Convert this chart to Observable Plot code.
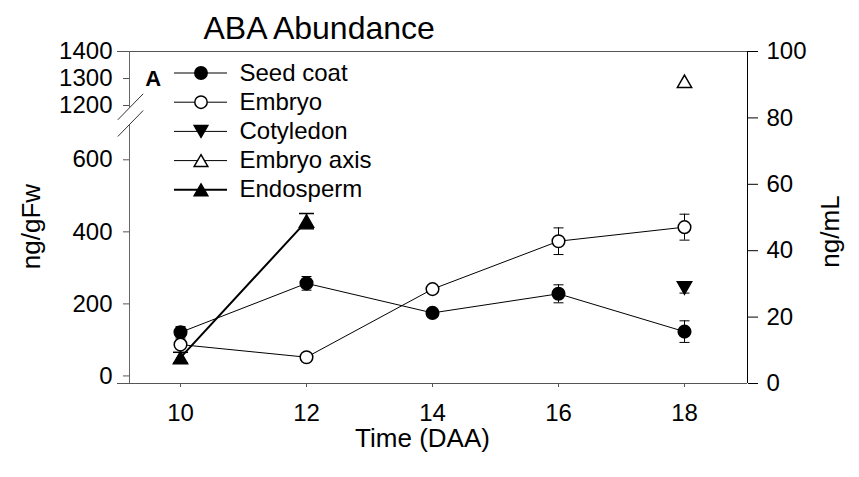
<!DOCTYPE html>
<html>
<head>
<meta charset="utf-8">
<script src="https://cdn.jsdelivr.net/npm/d3@7"></script>
<script src="https://cdn.jsdelivr.net/npm/@observablehq/plot@0.6"></script>
<style>
  html, body { margin: 0; padding: 0; background: #fff; }
  #chart svg { display: block; }
</style>
</head>
<body>
<div id="chart"></div>
<script>
// Sampling days (days after anthesis)
const days = [10, 12, 14, 16, 18];

// ABA, ng/gFw (left axis): means and standard errors
const seedCoat = [121, 257, 175, 228, 123];
const seedCoatErr = [16, 19, 8, 25, 30];
const embryo = [87, 52, 241, 374, 413];
const embryoErr = [10, 8, 8, 37, 36];
const cotyledonDays = [18];
const cotyledon = [244];
const cotyledonErr = [14];
const embryoAxisDays = [18];
const embryoAxis = [1290];

// ABA, ng/mL (right axis): liquid endosperm
const endospermDays = [10, 12];
const endosperm = [7.8, 48.9];
const endospermErr = [1.6, 2.3];

// Axis ticks
const xTicks = [10, 12, 14, 16, 18];
const leftTicks = [0, 200, 400, 600, 1200, 1300, 1400];
const rightTicks = [0, 20, 40, 60, 80, 100];

// Legend entries
const seriesNames = ["Seed coat", "Embryo", "Cotyledon", "Embryo axis", "Endosperm"];

// ---- layout ----
const W = 859, H = 477;
const M = {left: 117, right: 112, top: 51, bottom: 94};
const plotBottom = H - M.bottom, plotTop = M.top;
const xDomain = [9, 19];
// broken left axis: 0–600 below the break, 1200–1400 above it
const yStops = [-21, 600, 1200, 1400];
const yStopPx = [plotBottom, 159.3, 105, plotTop];
const yDomain = [yStops[0], yStops[yStops.length - 1]];
const rightDomain = [0, 100];

// piecewise mapping used as the y scale transform (keeps the end values fixed)
const yPx = d3.scaleLinear(yStops, yStopPx);
const yLin = d3.scaleLinear([plotBottom, plotTop], yDomain);
const broken = (v) => yLin(yPx(v));

// pixel helpers for the second axis, legend and break marks
const xPx = d3.scaleLinear(xDomain, [M.left, W - M.right]);
const rPx = d3.scaleLinear(rightDomain, [plotBottom, plotTop]);
const toLeft = (r) => yPx.invert(rPx(r));
const fromLeft = (v) => rPx.invert(yPx(v));

// marker symbols (triangles centred on their bounding box, error-bar caps)
const triUp = {draw(ctx, size) {
  const r = Math.sqrt(size / Math.PI), w = r * 1.1, h = r * 0.95;
  ctx.moveTo(0, -h); ctx.lineTo(w, h); ctx.lineTo(-w, h); ctx.closePath();
}};
const triDown = {draw(ctx, size) {
  const r = Math.sqrt(size / Math.PI), w = r * 1.1, h = r * 0.95;
  ctx.moveTo(0, h); ctx.lineTo(w, -h); ctx.lineTo(-w, -h); ctx.closePath();
}};
const cap = {draw(ctx, size) {
  const r = Math.sqrt(size / Math.PI);
  ctx.moveTo(-r, 0); ctx.lineTo(r, 0);
}};

function rows(xs, vs, es, map = (v) => v) {
  return xs.map((x, i) => ({
    x, v: map(vs[i]),
    lo: es ? map(vs[i] - es[i]) : null,
    hi: es ? map(vs[i] + es[i]) : null
  }));
}
const seedRows = rows(days, seedCoat, seedCoatErr);
const embryoRows = rows(days, embryo, embryoErr);
const cotRows = rows(cotyledonDays, cotyledon, cotyledonErr);
const axisRows = rows(embryoAxisDays, embryoAxis, null);
const endoRows = rows(endospermDays, endosperm, endospermErr, toLeft);

function errorBars(data, capR = 5, sw = 1) {
  return [
    Plot.ruleX(data, {x: "x", y1: "lo", y2: "hi", stroke: "black", strokeWidth: sw}),
    Plot.dot(data, {x: "x", y: "lo", symbol: cap, r: capR, stroke: "black", strokeWidth: sw, fill: "none"}),
    Plot.dot(data, {x: "x", y: "hi", symbol: cap, r: capR, stroke: "black", strokeWidth: sw, fill: "none"})
  ];
}

// legend styling per series
const legendStyle = [
  {symbol: "circle", r: 6.2, fill: "black", lw: 1},
  {symbol: "circle", r: 6.2, fill: "white", lw: 1},
  {symbol: triDown, r: 6.2, fill: "black", lw: 1},
  {symbol: triUp, r: 6.2, fill: "white", lw: 1},
  {symbol: triUp, r: 6.2, fill: "black", lw: 2}
];
const legendRows = seriesNames.map((name, i) => ({
  name,
  ...legendStyle[i],
  y: yPx.invert(72.5 + i * 29.2),
  x1: xPx.invert(174), x2: xPx.invert(227), xm: xPx.invert(200.5), xt: xPx.invert(239)
}));

// axis break: gap in the left axis and two slashes
const gapTop = yPx.invert(107.3), gapBottom = yPx.invert(124);
const slashes = [
  {x1: xPx.invert(117.3), y1: yPx.invert(119.3), x2: xPx.invert(142.7), y2: yPx.invert(93.3)},
  {x1: xPx.invert(117.3), y1: yPx.invert(136), x2: xPx.invert(142.7), y2: yPx.invert(110)}
];
const axisOffset = 12; // left axis sits 12px inside the frame

const font = "'Liberation Sans', Arial, Helvetica, sans-serif";
const label = (text, options) =>
  Plot.text([text], {text: (d) => d, textAnchor: "middle", lineAnchor: "middle", fill: "black", ...options});

const chart = Plot.plot({
  width: W,
  height: H,
  marginLeft: M.left,
  marginRight: M.right,
  marginTop: M.top,
  marginBottom: M.bottom,
  style: {fontFamily: font, background: "white", color: "black", overflow: "visible"},
  x: {type: "linear", domain: xDomain},
  y: {type: "linear", domain: yDomain, transform: broken},
  marks: [
    // frame lines
    Plot.ruleY([yDomain[0]], {stroke: "#555"}),
    Plot.ruleY([yDomain[1]], {stroke: "#555"}),
    Plot.ruleX([{a: yDomain[0], b: gapBottom}, {a: gapTop, b: yDomain[1]}],
      {x: xDomain[0], y1: "a", y2: "b", dx: axisOffset, stroke: "#666"}),
    Plot.ruleX([xDomain[1]], {stroke: "black"}),
    Plot.link(slashes, {x1: "x1", y1: "y1", x2: "x2", y2: "y2", stroke: "#333", strokeWidth: 1}),

    // axes
    Plot.axisX(xTicks, {tickSize: 4, tickPadding: 16, fontSize: 24, stroke: "#555", label: null,
      tickFormat: (d) => String(d)}),
    Plot.axisY(leftTicks, {anchor: "left", dx: axisOffset, tickSize: 6, tickPadding: 11, fontSize: 24,
      stroke: "#555", label: null, tickFormat: (d) => String(d)}),
    Plot.axisY(rightTicks.map(toLeft), {anchor: "right", tickSize: 10, tickPadding: 9, fontSize: 24,
      stroke: "black", label: null, tickFormat: (d) => String(Math.round(fromLeft(d)))}),

    // connecting lines
    Plot.line(seedRows, {x: "x", y: "v", stroke: "black", strokeWidth: 1}),
    Plot.line(embryoRows, {x: "x", y: "v", stroke: "black", strokeWidth: 1}),
    Plot.line(endoRows, {x: "x", y: "v", stroke: "black", strokeWidth: 2}),

    // error bars
    ...errorBars(seedRows),
    ...errorBars(embryoRows),
    ...errorBars(cotRows),
    ...errorBars(endoRows, 7.5, 1.5),

    // markers
    Plot.dot(seedRows, {x: "x", y: "v", r: 6.3, symbol: "circle", fill: "black", stroke: "black"}),
    Plot.dot(embryoRows, {x: "x", y: "v", r: 6.3, symbol: "circle", fill: "white", stroke: "black"}),
    Plot.dot(cotRows, {x: "x", y: "v", r: 6.5, symbol: triDown, fill: "black", stroke: "black"}),
    Plot.dot(axisRows, {x: "x", y: "v", r: 6.5, symbol: triUp, fill: "white", stroke: "black"}),
    Plot.dot(endoRows, {x: "x", y: "v", r: 6.5, symbol: triUp, fill: "black", stroke: "black"}),

    // legend
    ...legendRows.map((d) => Plot.ruleY([d], {y: "y", x1: "x1", x2: "x2", stroke: "black", strokeWidth: d.lw})),
    ...legendRows.map((d) => Plot.dot([d], {x: "xm", y: "y", r: d.r, symbol: d.symbol, fill: d.fill, stroke: "black"})),
    Plot.text(legendRows, {x: "xt", y: "y", text: "name", textAnchor: "start", fontSize: 24, fill: "black"}),

    // titles and labels
    label("ABA Abundance", {frameAnchor: "top-left", textAnchor: "start", dx: 86, dy: -22.5, fontSize: 32}),
    label("A", {frameAnchor: "top-left", dx: 35.7, dy: 27.3, fontSize: 22, fontWeight: "bold"}),
    label("ng/gFw", {frameAnchor: "left", dx: -86, dy: 9, rotate: -90, fontSize: 26}),
    label("ng/mL", {frameAnchor: "right", dx: 83, dy: 14, rotate: -90, fontSize: 26}),
    label("Time (DAA)", {frameAnchor: "bottom", dx: -10, dy: 55, fontSize: 26})
  ]
});

document.getElementById("chart").appendChild(chart);
</script>
</body>
</html>
